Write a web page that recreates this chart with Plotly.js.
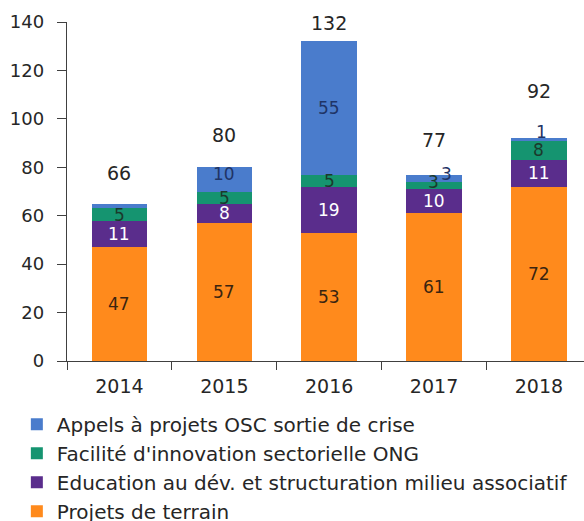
<!DOCTYPE html>
<html><head><meta charset="utf-8">
<script src="https://cdn.plot.ly/plotly-3.0.1.min.js"></script>
<style>html,body{margin:0;padding:0;background:#fff}#c{width:584px;height:521px}</style>
</head><body><div id="c"></div>
<script>
const years = ['2014','2015','2016','2017','2018'];
const projets = [47, 57, 53, 61, 72];
const education = [11, 8, 19, 10, 11];
const facilite = [5, 5, 5, 3, 8];
const appels = [2, 10, 55, 3, 1];
const appelsLabels = ['', '10', '55', '3', '1'];
const totals = [66, 80, 132, 77, 92];

const names = ['Projets de terrain', 'Education au dév. et structuration milieu associatif',
  "Facilité d'innovation sectorielle ONG", 'Appels à projets OSC sortie de crise'];
const series = [projets, education, facilite, appels];
const colors = ['#ff8a1c', '#5a2d8c', '#159470', '#4a7ccc'];
const textColors = ['#3a2410', '#ffffff', '#1b3a2c', '#1f3466'];
const FONT = '"DejaVu Sans", sans-serif';

const traces = series.map((s, i) => ({
  type: 'bar', x: years, y: s, name: names[i], legendrank: 4 - i,
  marker: {color: colors[i]}, width: 0.53, hoverinfo: 'skip'
}));

const annotations = [];
const cum = [0,0,0,0,0];
series.forEach((s, i) => {
  s.forEach((v, j) => {
    let label = (i === 3) ? appelsLabels[j] : String(v);
    let mid = cum[j] + v / 2;
    let xshift = 0, yshift = 0;
    if (i === 3 && j === 3) { xshift = 12; yshift = 4; }
    if (i === 2 && j === 3) { xshift = -1; yshift = 3; }
    if (i === 3 && j === 4) { xshift = 3; yshift = 7; }
    if (i === 3 && j === 1) { yshift = 5; }
    if (label) annotations.push({x: j, y: mid, text: label, showarrow: false,
      xshift: xshift, yshift: yshift, borderpad: 0,
      font: {family: FONT, size: 17, color: textColors[i]}});
    cum[j] += v;
  });
});
const totalShift = [31, 32, 18, 35, 47];
totals.forEach((t, j) => {
  annotations.push({x: j, y: cum[j], text: String(t), showarrow: false,
    yshift: totalShift[j], font: {family: FONT, size: 19, color: '#262626'}});
});

const layout = {
  width: 584, height: 521,
  margin: {l: 67, r: 0, t: 22, b: 160, autoexpand: false},
  barmode: 'stack',
  paper_bgcolor: '#fff', plot_bgcolor: '#fff',
  font: {family: FONT, color: '#262626', size: 19},
  xaxis: {type: 'category', range: [-0.5, 4.43], showline: true, linecolor: '#404040', linewidth: 1.3,
    ticks: 'outside', ticklen: 8, tickcolor: '#404040', tickson: 'boundaries', ticklabelstandoff: 8,
    showgrid: false, tickfont: {size: 19, family: FONT, color: '#262626'}, fixedrange: true},
  yaxis: {range: [0, 140], dtick: 20, showline: true, linecolor: '#404040', linewidth: 1.3,
    ticks: 'outside', ticklen: 9, tickcolor: '#404040', showgrid: false, zeroline: false,
    ticklabelstandoff: 9,
    tickfont: {size: 18, family: FONT, color: '#262626'}, fixedrange: true},
  legend: {orientation: 'v', traceorder: 'normal', x: -0.097, xanchor: 'left',
    y: -0.129, yanchor: 'top', font: {size: 20, family: FONT, color: '#262626'},
    itemwidth: 30, tracegroupgap: 0, bgcolor: 'rgba(0,0,0,0)'},
  annotations: annotations,
  showlegend: true
};
Plotly.newPlot('c', traces, layout, {displayModeBar: false, staticPlot: true});
</script></body></html>
